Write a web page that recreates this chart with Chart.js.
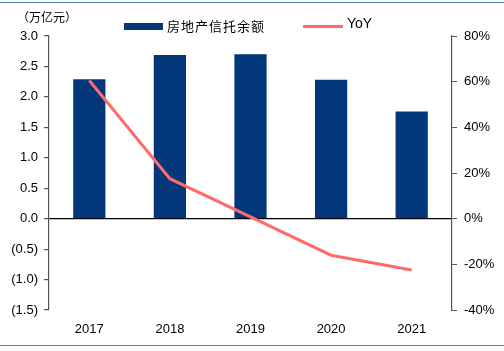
<!DOCTYPE html>
<html>
<head>
<meta charset="utf-8">
<script src="https://cdn.jsdelivr.net/npm/chart.js@4/dist/chart.umd.min.js"></script>
<style>
  html, body { margin: 0; padding: 0; background: #fff; }
  #wrap { position: relative; width: 504px; height: 351px; overflow: hidden; }
  #chart { position: absolute; left: 0; top: 0; }
  .frame { position: absolute; left: 0; width: 504px; height: 1px; background: #4f7fbd; }
  .unit { position: absolute; left: 17px; top: 8px; font: 12px "Noto Sans CJK SC"; color: #000; }
  .legend { position: absolute; top: 16px; font: 13px "Noto Sans CJK SC"; color: #000; }
  .legend span { position: absolute; white-space: nowrap; }
</style>
</head>
<body>
<div id="wrap">
  <canvas id="chart" width="504" height="351"></canvas>
  <div class="frame" style="top:2px"></div>
  <div class="frame" style="top:345px"></div>
  <div class="unit">（万亿元）</div>
  <div class="legend">
    <span style="left:124px;top:7px;width:39px;height:7px;background:#02387a"></span>
    <span style="left:167px;top:0;letter-spacing:1px">房地产信托余额</span>
    <span style="left:303px;top:9px;width:40px;height:3px;background:#ff6b6b"></span>
    <span style="left:347px;top:-1px;font:14px 'Liberation Sans'">YoY</span>
  </div>
</div>
<script>
const years = ["2017", "2018", "2019", "2020", "2021"];
const balance = [2.29, 2.69, 2.70, 2.28, 1.76];
const yoy = [60.5, 17.5, 0.8, -16, -22.5];
const leftTicks = [-1.5, -1.0, -0.5, 0, 0.5, 1.0, 1.5, 2.0, 2.5, 3.0];

const axisFont = { family: "Liberation Sans", size: 13 };

new Chart(document.getElementById("chart"), {
  data: {
    labels: years,
    datasets: [
      {
        type: "line",
        label: "YoY",
        data: yoy,
        yAxisID: "y2",
        borderColor: "#ff6b6b",
        backgroundColor: "#ff6b6b",
        borderWidth: 3,
        pointRadius: 0,
        tension: 0,
        order: 0,
      },
      {
        type: "bar",
        label: "房地产信托余额",
        data: balance,
        yAxisID: "y",
        backgroundColor: "#02387a",
        categoryPercentage: 1,
        barPercentage: 0.4,
        order: 1,
      },
    ],
  },
  options: {
    responsive: false,
    animation: false,
    layout: { padding: { top: 36, left: 0, right: 0, bottom: 0 } },
    plugins: { legend: { display: false }, tooltip: { enabled: false } },
    scales: {
      x: {
        grid: { display: false },
        border: { display: false },
        ticks: { color: "#000", font: axisFont, padding: 4 },
        afterFit: (s) => { s.height = 41; },
      },
      y: {
        position: "left",
        min: -1.5,
        max: 3.0,
        afterBuildTicks: (s) => { s.ticks = leftTicks.map((v) => ({ value: v })); },
        ticks: {
          color: "#000",
          font: axisFont,
          padding: 6,
          callback: (v) => (v < 0 ? "(" + Math.abs(v).toFixed(1) + ")" : v.toFixed(1)),
        },
        grid: {
          color: (c) => (c.tick && c.tick.value === 0 ? "#000" : "rgba(0,0,0,0)"),
          lineWidth: 1.2,
          tickColor: "#555",
          tickLength: 5,
        },
        border: { color: "#555", width: 1.2 },
        afterFit: (s) => { s.width = 49; },
      },
      y2: {
        position: "right",
        min: -40,
        max: 80,
        ticks: {
          stepSize: 20,
          color: "#000",
          font: axisFont,
          padding: 7,
          callback: (v) => v + "%",
        },
        grid: { drawOnChartArea: false, tickColor: "#555", tickLength: 5 },
        border: { color: "#555", width: 1.2 },
        afterFit: (s) => { s.width = 52; },
      },
    },
  },
});
</script>
</body>
</html>
